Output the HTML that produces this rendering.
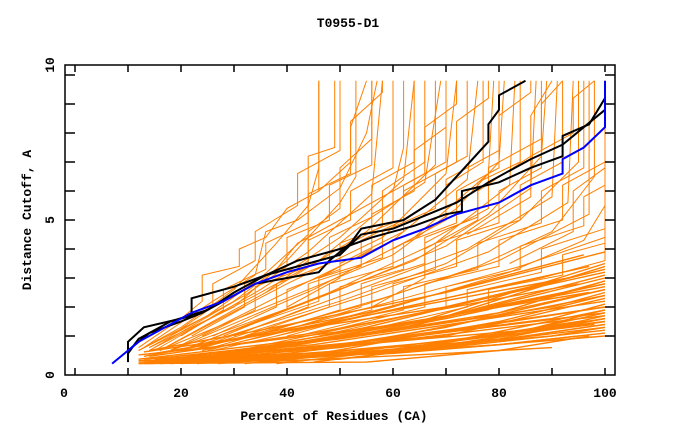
<!DOCTYPE html>
<html><head><meta charset="utf-8"><style>
body{margin:0;background:#fff;}
svg text{font-family:"Liberation Mono",monospace;font-weight:bold;}
</style></head><body>
<svg id="chart" width="680" height="440" viewBox="0 0 680 440">
<text x="348" y="27" font-size="13" text-anchor="middle">T0955-D1</text>
<text x="334" y="420" font-size="13" text-anchor="middle">Percent of Residues (CA)</text>
<text transform="translate(31,220) rotate(-90)" font-size="13" text-anchor="middle">Distance Cutoff, A</text>
<g id="marks"></g>
<rect x="65" y="65" width="550" height="310" fill="none" stroke="#000" stroke-width="1.5"/>
<g id="axes"></g>
</svg>
<script>
const xTicks=[0,10,20,30,40,50,60,70,80,90,100];
const xLabels=["0","20","40","60","80","100"];
const yTicks=[1,2,3,4,5,6,7,8,9,10];
const yLabels=["0","5","10"];
const orangeLow=[
[[12,0.05],[55,0.1],[80,0.5],[97,1.0]],
[[13,0.05],[50,0.2],[100,1.3]],
[[12,0.1],[45,0.3],[100,1.5]],
[[14,0.1],[40,0.4],[100,1.7]],
[[15,0.1],[50,0.6],[100,2.0]],
[[13,0.2],[45,0.7],[100,2.2]],
[[16,0.1],[55,0.8],[100,2.4]],
[[12,0.2],[40,0.8],[97,2.5]],
[[17,0.1],[50,1.0],[100,2.7]],
[[14,0.3],[45,1.1],[95,2.8]],
[[18,0.1],[60,1.2],[100,3.0]],
[[13,0.3],[40,1.2],[93,3.0]],
[[20,0.1],[55,1.3],[100,3.3]],
[[15,0.4],[50,1.5],[97,3.4]],
[[22,0.1],[65,1.5],[100,3.5]],
[[16,0.4],[55,1.8],[96,3.8]],
[[24,0.1],[70,1.2],[100,2.0]],
[[26,0.1],[75,0.9],[98,1.4]],
[[30,0.1],[80,0.7],[95,1.0]],
[[35,0.1],[70,0.4],[90,0.6]],
[[12,0.15],[60,0.4],[100,1.0]],
[[14,0.15],[70,0.6],[100,1.2]],
[[18,0.2],[60,0.9],[100,1.8]],
[[20,0.2],[70,1.0],[100,2.3]],
[[22,0.3],[75,1.6],[100,2.6]],
[[25,0.2],[80,1.8],[100,2.9]],
[[12,0.05],[30,0.2],[70,0.6],[100,1.4]],
[[13,0.1],[35,0.3],[75,0.8],[100,1.6]],
[[14,0.05],[40,0.2],[80,0.7],[100,1.1]],
[[15,0.2],[40,0.5],[85,1.2],[100,1.9]],
[[16,0.05],[45,0.3],[90,1.0],[100,1.3]],
[[17,0.2],[50,0.7],[90,1.6],[100,2.1]],
[[18,0.05],[55,0.4],[95,1.5],[100,1.7]],
[[19,0.3],[50,0.9],[90,2.0],[100,2.5]],
[[20,0.05],[60,0.5],[100,1.6]],
[[21,0.3],[55,1.1],[100,2.8]],
[[23,0.05],[65,0.6],[100,1.9]],
[[24,0.3],[60,1.2],[100,3.1]],
[[27,0.05],[70,0.7],[100,1.5]],
[[28,0.3],[65,1.4],[100,3.4]],
[[32,0.05],[75,0.8],[100,1.8]],
[[34,0.2],[70,1.3],[100,2.6]],
[[38,0.05],[80,0.9],[100,1.6]],
[[40,0.2],[80,1.5],[100,2.4]],
[[45,0.1],[85,1.0],[100,1.4]],
[[12,0.35],[30,0.7],[70,1.6],[100,2.8]],
[[13,0.45],[30,0.9],[70,2.0],[100,3.2]],
[[14,0.5],[35,1.2],[70,2.5],[100,3.9]]
];
const orangeHigh=[
[[12,0.5],[20,1.3],[30,2.6],[38,4.2],[44,5.5],[46,6.8],[46,9.8]],
[[12,0.5],[25,1.7],[35,3.0],[44,4.5],[44,7.2],[49,7.5],[49,9.8]],
[[14,0.6],[30,2.2],[40,3.6],[50,5.6],[53,6.5],[53,9.8]],
[[14,0.5],[32,2.4],[44,3.9],[56,5.9],[58,9.8]],
[[15,0.5],[35,2.6],[50,4.4],[62,6.4],[64,9.8]],
[[16,0.5],[38,2.7],[55,4.6],[68,6.9],[68,9.8]],
[[16,0.5],[40,2.8],[58,4.4],[70,6.6],[72,9.8]],
[[18,0.5],[42,2.7],[60,4.3],[74,6.4],[76,9.8]],
[[18,0.5],[45,2.6],[64,4.4],[78,6.6],[79,9.8]],
[[20,0.5],[48,2.5],[68,4.2],[82,6.2],[83,9.8]],
[[20,0.5],[50,2.6],[70,4.1],[86,6.1],[87,9.8]],
[[22,0.5],[52,2.5],[74,4.0],[90,5.8],[91,9.8]],
[[22,0.5],[55,2.4],[78,3.9],[93,5.6],[94,9.8]],
[[24,0.5],[58,2.3],[80,3.6],[97,5.2],[97,9.8]],
[[25,0.5],[60,2.2],[84,3.4],[100,4.4],[100,9.8]],
[[26,0.5],[62,2.0],[88,3.0],[100,3.6],[100,9.8]],
[[12,0.6],[20,1.6],[24,2.2],[24,3.1],[31,3.4],[31,4.0],[36,4.4],[40,5.4],[46,6.0],[46,9.8]],
[[13,0.6],[26,2.2],[34,3.1],[36,4.6],[42,5.0],[50,6.1],[55,8.0],[57,9.8]],
[[14,0.6],[30,2.0],[38,3.3],[42,4.2],[50,5.0],[60,6.0],[62,7.5],[62,9.8]],
[[15,0.6],[34,2.4],[46,3.6],[56,5.1],[66,6.3],[69,9.8]],
[[16,0.5],[40,2.3],[60,3.8],[72,5.4],[80,7.0],[81,9.8]],
[[18,0.5],[44,2.2],[64,3.6],[78,5.2],[88,7.2],[89,9.8]],
[[20,0.5],[50,2.2],[70,3.5],[84,5.0],[95,7.0],[95,9.8]],
[[22,0.5],[55,2.1],[76,3.4],[90,4.6],[98,6.5],[98,9.8]],
[[24,0.5],[60,2.0],[82,3.2],[96,4.3],[100,5.5]],
[[28,0.4],[65,1.8],[88,2.8],[100,3.3]],
[[30,0.4],[70,1.7],[92,2.5],[100,2.9]],
[[18,1.0],[26,2.0],[26,2.8],[34,3.6],[34,4.6],[42,5.5],[42,6.6],[50,7.4],[50,9.8]],
[[20,1.0],[28,1.9],[28,2.6],[36,3.3],[36,4.2],[44,4.9],[44,5.9],[52,6.6],[52,8.2],[55,9.8]],
[[22,1.0],[32,2.0],[32,2.8],[40,3.4],[40,4.4],[48,5.0],[48,6.2],[56,6.9],[56,9.8]],
[[24,1.0],[34,1.9],[34,2.7],[44,3.4],[44,4.3],[52,5.0],[52,6.0],[60,6.8],[60,9.8]],
[[26,1.0],[38,2.0],[38,2.8],[48,3.5],[48,4.4],[56,5.1],[56,6.2],[64,7.0],[64,9.8]],
[[28,1.0],[40,1.9],[40,2.6],[50,3.3],[50,4.2],[60,4.9],[60,6.0],[66,6.6],[66,9.8]],
[[30,1.0],[44,2.0],[44,2.8],[54,3.4],[54,4.3],[62,5.0],[62,6.2],[70,7.0],[70,9.8]],
[[30,1.2],[46,2.2],[46,3.0],[58,3.7],[58,4.6],[68,5.4],[68,6.6],[74,7.2],[74,9.8]],
[[32,1.0],[48,2.0],[48,2.8],[60,3.4],[60,4.3],[70,5.0],[70,6.2],[77,7.0],[77,9.8]],
[[34,1.0],[50,1.9],[50,2.7],[62,3.3],[62,4.2],[72,4.9],[72,6.0],[80,6.8],[80,9.8]],
[[36,1.0],[54,2.0],[54,2.8],[66,3.5],[66,4.4],[76,5.1],[76,6.3],[84,7.0],[84,9.8]],
[[38,1.0],[56,1.9],[56,2.7],[68,3.3],[68,4.2],[80,4.9],[80,6.0],[88,6.8],[88,9.8]],
[[40,1.0],[60,2.0],[60,2.8],[72,3.4],[72,4.3],[84,5.0],[84,6.2],[92,7.0],[92,9.8]],
[[42,1.0],[62,1.9],[62,2.7],[76,3.3],[76,4.2],[88,4.9],[88,6.0],[96,6.8],[96,9.8]],
[[44,1.0],[66,2.0],[66,2.8],[80,3.4],[80,4.3],[92,5.0],[92,6.2],[100,7.0],[100,9.8]],
[[46,1.0],[70,2.0],[70,2.7],[84,3.3],[84,4.1],[96,4.8],[96,5.8],[100,6.2]],
[[50,1.0],[74,2.0],[74,2.6],[88,3.2],[88,4.0],[100,4.7]],
[[54,1.0],[78,1.9],[78,2.6],[92,3.1],[92,3.8],[100,4.2]],
[[40,2.0],[50,3.0],[50,4.0],[58,4.8],[58,6.0],[66,7.0],[66,8.2],[72,9.0],[72,9.8]],
[[46,3.0],[56,4.0],[56,5.2],[64,6.0],[64,7.4],[70,8.2],[70,9.8]],
[[50,3.5],[62,4.6],[62,6.0],[72,7.0],[72,8.4],[78,9.2],[78,9.8]],
[[60,4.0],[70,5.0],[70,6.4],[80,7.4],[80,8.6],[86,9.4],[86,9.8]],
[[66,4.2],[78,5.4],[78,6.8],[88,7.8],[88,9.0],[92,9.8]],
[[74,4.5],[86,5.8],[86,7.2],[94,8.0],[94,9.2],[98,9.8]],
[[56,2.0],[66,3.0],[66,4.0],[76,5.0],[76,6.0],[86,7.2],[86,8.6],[90,9.8]],
[[82,3.5],[94,4.6],[94,6.0],[100,6.8]],
[[36,2.5],[44,3.6],[44,4.6],[50,5.4],[50,6.8],[56,7.8],[56,9.8]],
[[46,6.0],[52,7.0],[52,8.4],[58,9.4],[58,9.8]]
];
const blackA=[[10,0.1],[10,0.8],[13,1.3],[20,1.6],[22,1.7],[22,2.3],[30,2.7],[36,3.1],[42,3.6],[50,4.0],[56,4.4],[64,4.8],[70,5.2],[73,5.3],[73,6.0],[80,6.3],[86,6.8],[92,7.2],[92,7.9],[97,8.3],[100,9.2]];
const blackB=[[10,0.4],[12,0.9],[18,1.5],[25,1.9],[30,2.5],[36,3.1],[44,3.5],[50,3.8],[54,4.5],[60,4.7],[68,5.3],[72,5.6],[78,6.3],[82,6.7],[86,7.1],[92,7.6],[96,8.2],[100,8.8]];
const blackC=[[10,0.5],[14,1.1],[20,1.5],[24,1.8],[28,2.2],[34,2.8],[40,3.0],[46,3.2],[48,3.6],[52,4.2],[54,4.7],[62,5.0],[68,5.7],[78,7.7],[78,8.3],[80,8.8],[80,9.3],[85,9.8]];
const blueLine=[[7,0.05],[12,0.8],[18,1.4],[22,1.8],[28,2.2],[34,2.8],[40,3.2],[46,3.5],[54,3.7],[60,4.3],[66,4.7],[72,5.2],[80,5.6],[86,6.2],[92,6.6],[92,7.1],[96,7.5],[100,8.2],[100,9.8]];

const xs=v=>75+5.3*v;
const ys=v=>365-29*v;
const NS="http://www.w3.org/2000/svg";
const marks=document.getElementById('marks');
function line(pts,color,w,name){
  const p=document.createElementNS(NS,'polyline');
  p.setAttribute('points',pts.map(d=>xs(d[0]).toFixed(1)+','+ys(d[1]).toFixed(1)).join(' '));
  p.setAttribute('fill','none');p.setAttribute('stroke',color);p.setAttribute('stroke-width',w);
  
  
  marks.appendChild(p);
}
orangeLow.forEach(s=>line(s,'#ff8000',1.4,'model-curve'));
orangeHigh.forEach(s=>line(s,'#ff8000',1,'model-curve'));
line(blackA,'#000',2,'highlight-curve-a');
line(blackB,'#000',2,'highlight-curve-b');
line(blackC,'#000',2,'highlight-curve-c');
line(blueLine,'#0000ff',2,'best-model-curve');
const axes=document.getElementById('axes');
function seg(x1,y1,x2,y2,name){
  const l=document.createElementNS(NS,'line');
  l.setAttribute('x1',x1);l.setAttribute('y1',y1);l.setAttribute('x2',x2);l.setAttribute('y2',y2);
  l.setAttribute('stroke','#000');l.setAttribute('stroke-width','1.5');
  
  
  axes.appendChild(l);
}
xTicks.forEach(t=>{const x=xs(t);seg(x,375,x,368,'x-tick');seg(x,65,x,72,'x-tick-top');});
yTicks.forEach(t=>{const y=ys(t);seg(65,y,75,y,'y-tick');seg(615,y,605,y,'y-tick-right');});
function txt(x,y,s,anchor,name){
  const t=document.createElementNS(NS,'text');
  t.setAttribute('x',x);t.setAttribute('y',y);t.setAttribute('font-size','13');t.setAttribute('text-anchor',anchor);
  t.textContent=s;
  
  
  axes.appendChild(t);
}
xLabels.forEach((s,i)=>{const v=i*20;txt(i===0?64:xs(v),397,s,'middle','x-tick-label');});
const yPos=[375,220,65];
yLabels.forEach((s,i)=>{
  const t=document.createElementNS(NS,'text');
  t.setAttribute('transform','translate(54,'+yPos[i]+') rotate(-90)');
  t.setAttribute('font-size','13');t.setAttribute('text-anchor','middle');
  t.textContent=s;
  
  
  axes.appendChild(t);
});
</script>
</body></html>
